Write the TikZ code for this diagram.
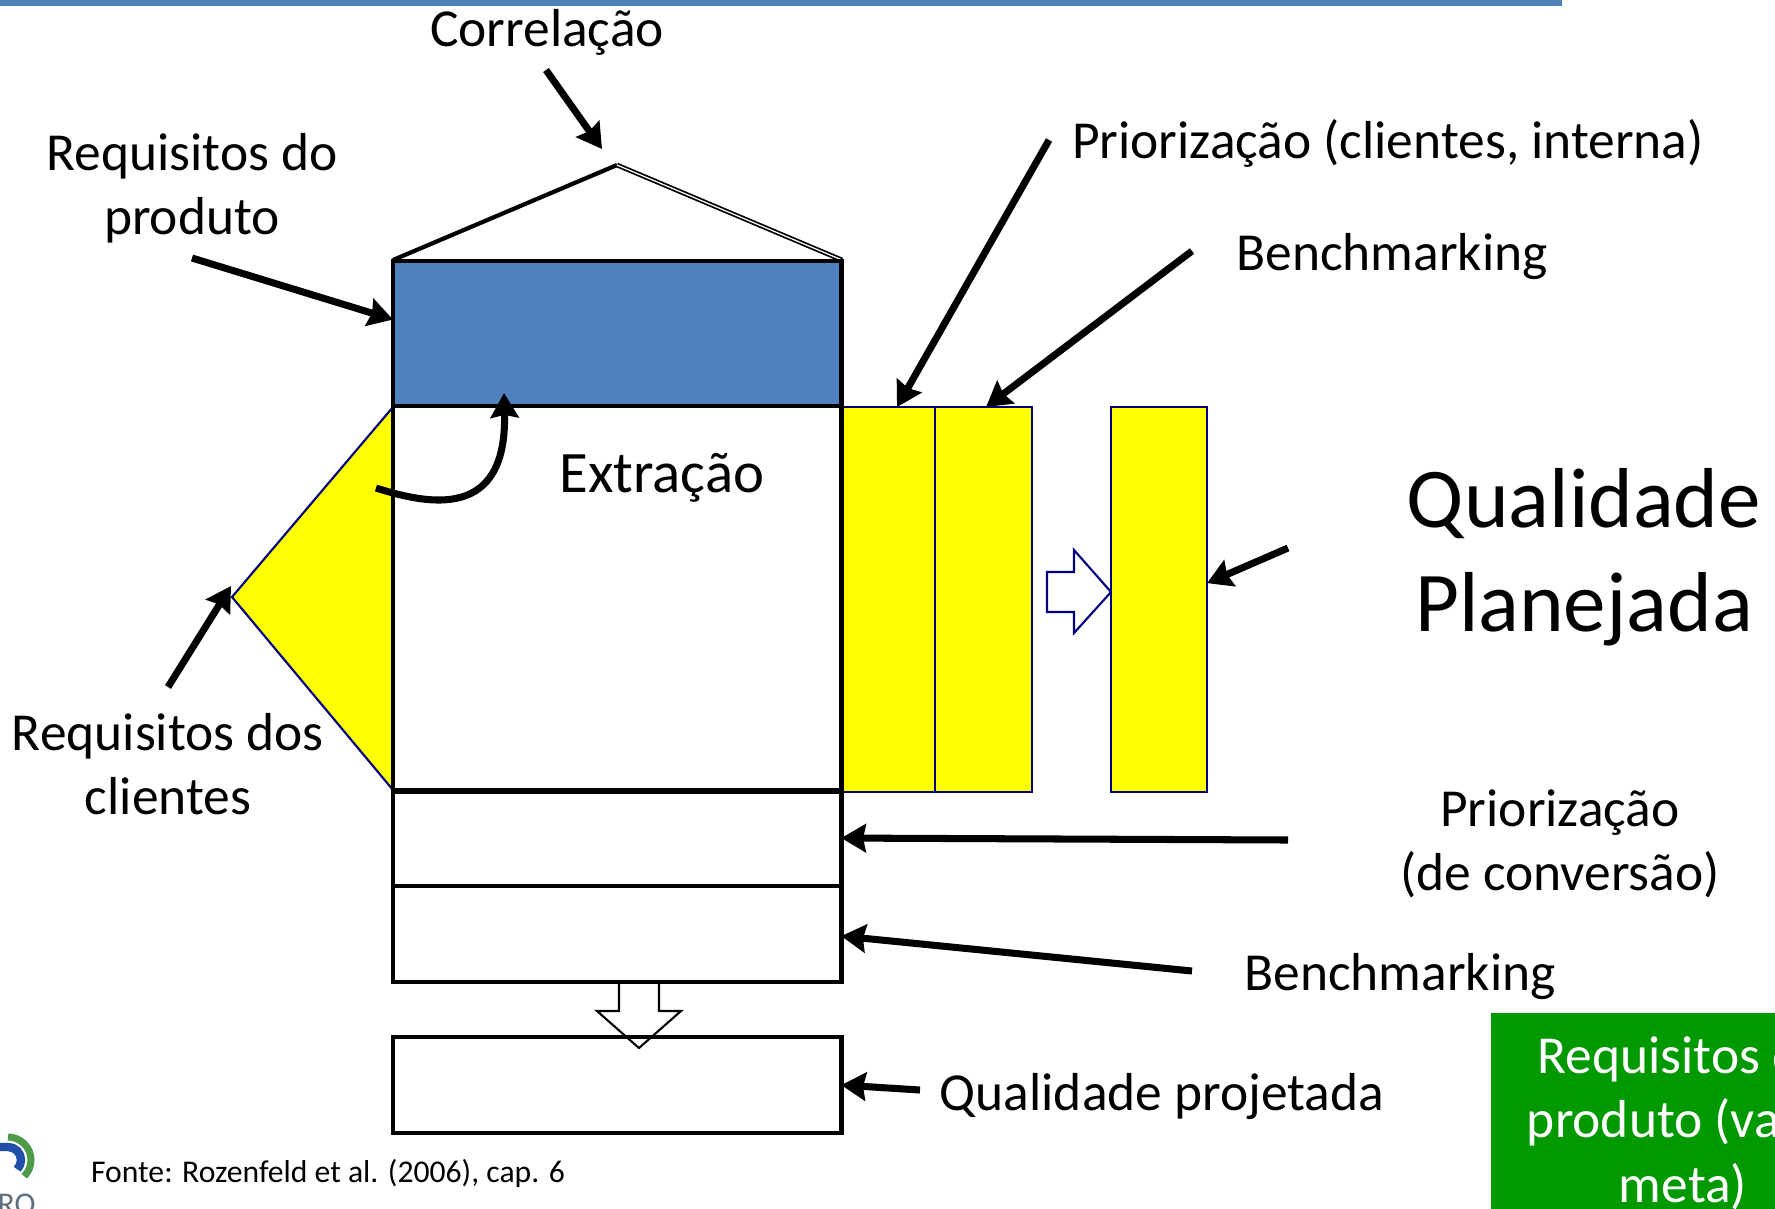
\documentclass[tikz,border=0pt]{standalone}
\usepackage{fontspec}
\setmainfont{Carlito}
\usetikzlibrary{arrows.meta}
\definecolor{azulQfd}{HTML}{4F81BD}
\definecolor{verdeMeta}{HTML}{009900}
\definecolor{azulBorda}{HTML}{000080}
\definecolor{amarelo}{HTML}{FFFF00}
\definecolor{cinzaLogo}{HTML}{5F6F80}
\definecolor{verdeLogo}{HTML}{4E9A4A}
\definecolor{azulLogo}{HTML}{1F4FA8}
\tikzset{
    caixa/.style={draw=black,line width=1.3pt,anchor=north west,inner sep=0pt,outer sep=0pt},
    coluna/.style={draw=azulBorda,fill=amarelo,line width=0.6pt,anchor=north west,inner sep=0pt,outer sep=0pt},
    seta/.style={line width=2pt,-{Stealth[length=7pt,width=8pt,inset=0.8pt]}},
    rotulo/.style={font=\fontsize{15.2}{18.3}\selectfont,align=center,inner sep=0pt},
    grande/.style={font=\fontsize{24.2}{29.6}\selectfont,align=center,inner sep=0pt},
}
\begin{document}
\begin{tikzpicture}[x=0.01cm,y=-0.01cm]
    \clip (0,0) rectangle (1775,1208);
    \fill[white] (0,0) rectangle (1775,1208);
    % Faixa no topo
    \fill[azulQfd] (0,0) rectangle (1562,6);
    % Triangulo amarelo dos clientes
    \filldraw[draw=azulBorda,fill=amarelo,line width=0.6pt] (393,407) -- (232,597) -- (393,790) -- cycle;
    % Colunas amarelas
    \node[coluna,minimum width=0.95cm,minimum height=3.85cm] (colPrior) at (840,407) {};
    \node[coluna,minimum width=0.97cm,minimum height=3.85cm] (colBench) at (935,407) {};
    \node[coluna,minimum width=0.96cm,minimum height=3.85cm] (colPlan) at (1111,407) {};
    % Telhado
    \draw[line width=1.2pt] (393,260) -- (617,165);
    \draw[line width=0.5pt,double,double distance=0.35pt] (617,165) -- (842,260);
    % Seta vazada para baixo
    \filldraw[draw=black,fill=white,line width=0.6pt] (619,982) -- (619,1011) -- (597,1011) -- (639,1048) -- (681,1011) -- (659,1011) -- (659,982);
    % Seta vazada para a direita
    \filldraw[draw=azulBorda,fill=white,line width=0.6pt] (1047,572) -- (1074,572) -- (1074,550) -- (1111,592) -- (1074,633) -- (1074,612) -- (1047,612) -- cycle;
    % Caixas da matriz
    \node[caixa,fill=azulQfd,minimum width=4.48cm,minimum height=1.45cm] (boxProduto) at (393,261) {};
    \node[caixa,minimum width=4.48cm,minimum height=3.85cm] (boxExtracao) at (393,406) {};
    \node[caixa,minimum width=4.48cm,minimum height=0.96cm] (boxConversao) at (393,790) {};
    \node[caixa,minimum width=4.48cm,minimum height=0.96cm] (boxBench) at (393,886) {};
    \node[caixa,minimum width=4.48cm,minimum height=0.96cm] (boxProjetada) at (393,1037) {};
    % Textos
    \node[rotulo] (lblCorrelacao) at (547,32) {Correlação};
    \node[rotulo] (lblProduto) at (192,188) {Requisitos do\\produto};
    \node[rotulo,font=\fontsize{16.7}{20}\selectfont] (lblExtracao) at (662,478) {Extração};
    \node[rotulo] (lblPriorInterna) at (1388,143) {Priorização (clientes, interna)};
    \node[rotulo] (lblBenchTopo) at (1392,257) {Benchmarking};
    \node[grande] (lblPlanejada) at (1584,557) {Qualidade\\Planejada};
    \node[rotulo] (lblPriorConv) at (1560,844) {Priorização\\(de conversão)};
    \node[rotulo] (lblBenchBaixo) at (1400,977) {Benchmarking};
    \node[rotulo] (lblClientes) at (168,764) {Requisitos dos\\clientes};
    \node[rotulo] (lblProjetada) at (1162,1097) {Qualidade projetada};
    \node[font=\fontsize{9}{11}\selectfont,inner sep=0pt] (lblFonte) at (328,1173) {Fonte: Rozenfeld et al. (2006), cap. 6};
    % Caixa verde
    \node[fill=verdeMeta,anchor=north west,inner sep=0pt,minimum width=2.85cm,minimum height=1.96cm] (boxMeta) at (1490,1012) {};
    \node[rotulo,text=white] (lblMeta) at (1683,1123) {Requisitos do\\produto (valor\\meta)};
    % Logo
    \draw[verdeLogo,line width=2pt] (8,1137) arc[start angle=-90,end angle=45,radius=23];
    \draw[azulLogo,line width=2.4pt] (0,1147) -- (8,1147) arc[start angle=-90,end angle=45,radius=13];
    \node[text=cinzaLogo,font=\fontsize{9}{11}\selectfont,anchor=base west,inner sep=0pt] (lblLogo) at (-3,1214) {RO};
    % Pontos de partida das setas
    \coordinate (iniCorrelacao) at (546,70);
    \coordinate (iniProduto) at (192,258);
    \coordinate (iniClientes) at (168,687);
    \coordinate (iniPrior) at (1049,140);
    \coordinate (iniBench) at (1192,251);
    \coordinate (iniPlan) at (1288,548);
    \coordinate (iniConv) at (1288,840);
    \coordinate (iniBenchBaixo) at (1192,971);
    \coordinate (iniProjetada) at (920,1090);
    \coordinate (iniCurva) at (376,488);
    \coordinate (fimCorrelacao) at (602,149);
    \coordinate (fimClientes) at (231,586);
    % Setas pretas
    \draw[seta] (iniCorrelacao) -- (fimCorrelacao);
    \draw[seta] (iniProduto) -- ([yshift=0.14cm]boxProduto.west);
    \draw[seta] (iniClientes) -- (fimClientes);
    \draw[seta] (iniPrior) -- ([xshift=0.095cm]colPrior.north);
    \draw[seta] (iniBench) -- ([xshift=0.025cm]colBench.north);
    \draw[seta] (iniPlan) -- ([yshift=0.165cm]colPlan.east);
    \draw[seta] (iniConv) -- (boxConversao.east);
    \draw[seta] (iniBenchBaixo) -- ([yshift=-0.02cm]boxBench.east);
    \draw[seta] (iniProjetada) -- (boxProjetada.east);
    \draw[seta] (iniCurva) .. controls (430,505) and (507,520) .. ([xshift=-1.13cm,yshift=0.13cm]boxProduto.south);
\end{tikzpicture}
\end{document}
